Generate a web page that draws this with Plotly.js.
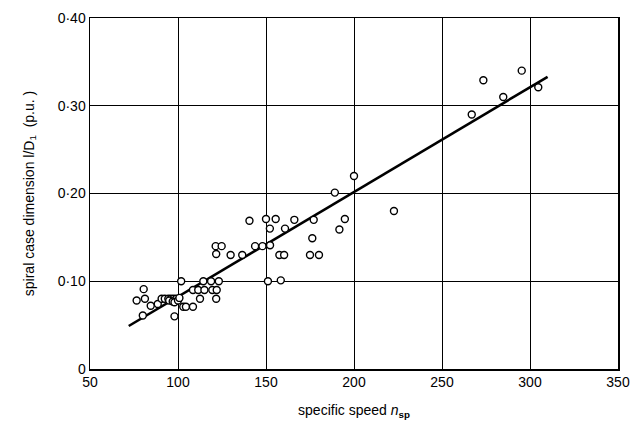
<!DOCTYPE html>
<html>
<head>
<meta charset="utf-8">
<script src="https://cdn.plot.ly/plotly-3.0.1.min.js"></script>
<style>html,body{margin:0;padding:0;background:#fff;}#chart{width:639px;height:428px;}</style>
</head>
<body>
<div id="chart"></div>
<script>
// specific speed n_sp
const speedX = [76.5,80.5,81.2,80,84.5,88.5,90.7,92.5,94.5,96,97.5,99,95,97,98,100,98,100.8,101.8,103,104.5,108.5,108.5,111.5,115,119.5,122,112.5,121.7,114.4,118.8,123.2,
  121.4,124.8,121.7,129.9,136.5,140.6,143.8,148,152.3,150,155.5,152.2,160.8,166.1,157.6,160.3,151.1,158.4,175,180.1,176.3,177.1,191.7,194.8,189.1,200,222.7,
  266.9,273.5,284.8,295.3,304.7];
// spiral case dimension l/D1 (p.u.)
const dimY = [0.078,0.091,0.080,0.061,0.072,0.074,0.080,0.080,0.080,0.080,0.080,0.080,0.078,0.077,0.076,0.078,0.060,0.081,0.100,0.071,0.071,0.071,0.090,0.090,0.090,0.090,0.090,0.080,0.080,0.100,0.100,0.100,
  0.140,0.140,0.131,0.130,0.130,0.169,0.140,0.140,0.141,0.171,0.171,0.160,0.160,0.170,0.130,0.130,0.100,0.101,0.130,0.130,0.149,0.170,0.159,0.171,0.201,0.220,0.180,
  0.290,0.329,0.310,0.340,0.321];
// fitted line
const fitX = [72, 310];
const fitY = [0.049, 0.333];
// tick labels
const xTicks = [50,100,150,200,250,300,350];
const yTicks = [0,0.10,0.20,0.30,0.40];
const yTickText = ['0','0·10','0·20','0·30','0·40'];

const traces = [
  {x: fitX, y: fitY, mode: 'lines', line: {color: '#000', width: 2.6}, hoverinfo: 'skip'},
  {x: speedX, y: dimY, mode: 'markers', marker: {symbol: 'circle', size: 7, color: '#fff', line: {color: '#000', width: 1.4}}}
];
const layout = {
  width: 639, height: 428,
  margin: {l: 90, r: 21, t: 18, b: 59},
  paper_bgcolor: '#fff', plot_bgcolor: '#fff',
  showlegend: false,
  font: {family: 'Liberation Sans, Arial, sans-serif', color: '#000', size: 14},
  xaxis: {
    range: [50, 350], tickvals: xTicks, ticktext: xTicks.map(String),
    showgrid: true, gridcolor: '#000', gridwidth: 1,
    showline: true, linecolor: '#000', linewidth: 1.5, mirror: true,
    zeroline: false, ticks: '', tickfont: {size: 14},
    title: {text: 'specific speed <i>n</i><sub><b>sp</b></sub>', font: {size: 14}, standoff: 16}
  },
  yaxis: {
    range: [0, 0.40], tickvals: yTicks, ticktext: yTickText,
    showgrid: true, gridcolor: '#000', gridwidth: 1,
    showline: true, linecolor: '#000', linewidth: 1.5, mirror: true,
    zeroline: false, ticks: '', tickfont: {size: 14},
    title: {text: 'spiral case dimension l/D<sub>1</sub>  (p.u. )', font: {size: 14}, standoff: 20}
  }
};
Plotly.newPlot('chart', traces, layout, {displayModeBar: false, staticPlot: true});
</script>
</body>
</html>
